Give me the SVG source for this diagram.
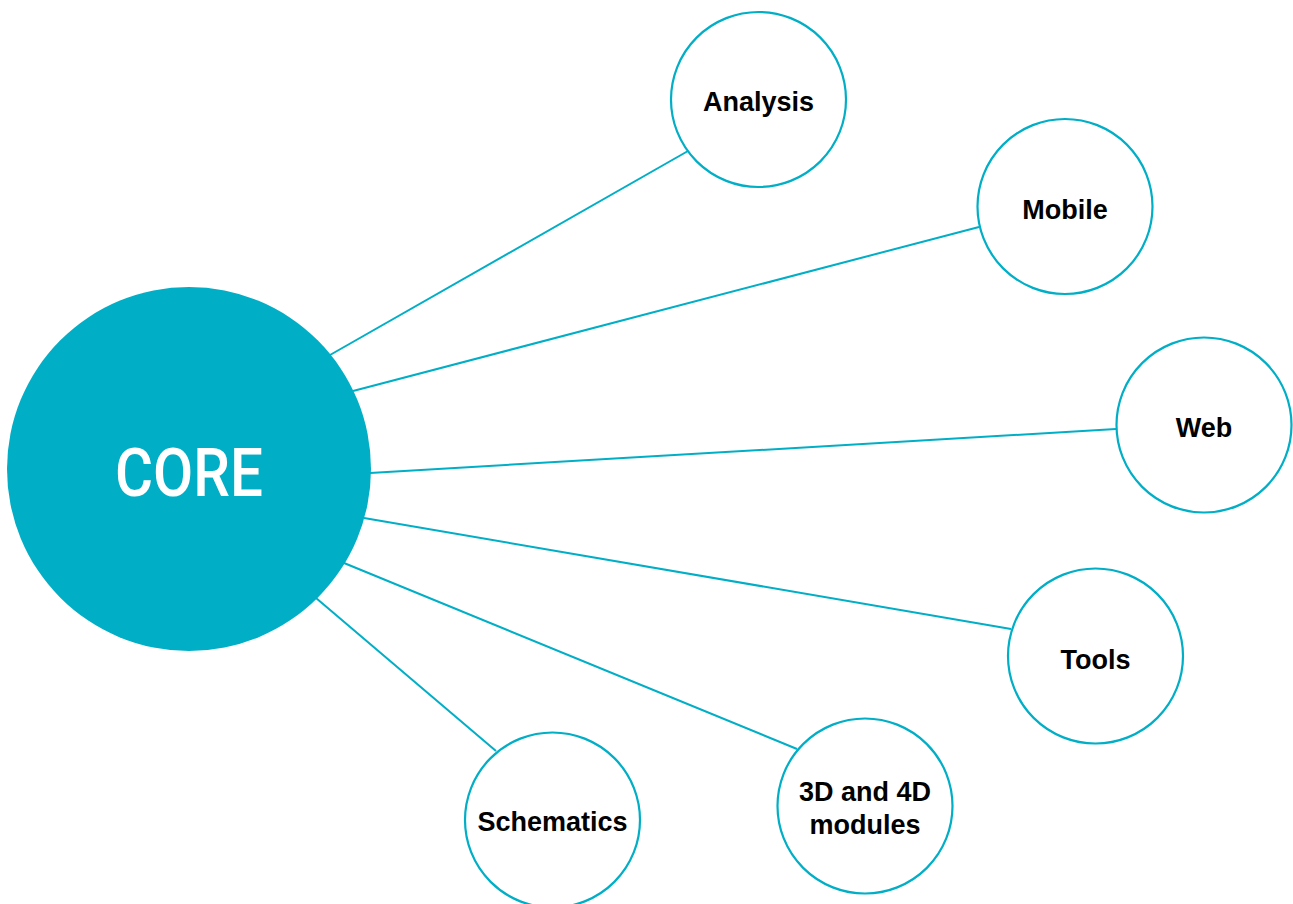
<svg xmlns="http://www.w3.org/2000/svg" width="1293" height="904" viewBox="0 0 1293 904">
<style>
.conn{stroke:#00AEC6;stroke-width:2;fill:none}
.node{fill:#ffffff;stroke:#00AEC6;stroke-width:2.2}
.lbl{font-family:"Liberation Sans",Arial,sans-serif;font-weight:bold;font-size:27px;fill:#000;text-anchor:middle}
.core{font-family:Roboto,"Liberation Sans",Arial,sans-serif;font-weight:500;font-size:66px;fill:#fff;text-anchor:middle}
</style>
<rect width="1293" height="904" fill="#ffffff"/>
<g id="connectors">
<line class="conn" x1="330" y1="355" x2="688" y2="151"/>
<line class="conn" x1="353" y1="391" x2="979" y2="227"/>
<line class="conn" x1="370" y1="473" x2="1116" y2="429"/>
<line class="conn" x1="364" y1="518" x2="1011" y2="629"/>
<line class="conn" x1="344" y1="563" x2="797" y2="749"/>
<line class="conn" x1="316" y1="598" x2="496" y2="751"/>
</g>
<g id="core">
<circle cx="189" cy="469" r="182" fill="#00AEC6"/>
<text class="core" x="189" y="496" textLength="148" lengthAdjust="spacingAndGlyphs">CORE</text>
</g>
<g id="analysis">
<circle class="node" cx="758.5" cy="99.5" r="87.5"/>
<text class="lbl" x="758.5" y="111">Analysis</text>
</g>
<g id="mobile">
<circle class="node" cx="1065" cy="206.5" r="87.5"/>
<text class="lbl" x="1065" y="219">Mobile</text>
</g>
<g id="web">
<circle class="node" cx="1204" cy="425" r="87.5"/>
<text class="lbl" x="1204" y="437">Web</text>
</g>
<g id="tools">
<circle class="node" cx="1095.5" cy="656" r="87.5"/>
<text class="lbl" x="1095.5" y="669">Tools</text>
</g>
<g id="modules">
<circle class="node" cx="865" cy="806" r="87.5"/>
<text class="lbl" x="865" y="801">3D and 4D</text>
<text class="lbl" x="865" y="834">modules</text>
</g>
<g id="schematics">
<circle class="node" cx="552.5" cy="820" r="87.5"/>
<text class="lbl" x="552.5" y="831">Schematics</text>
</g>
</svg>
